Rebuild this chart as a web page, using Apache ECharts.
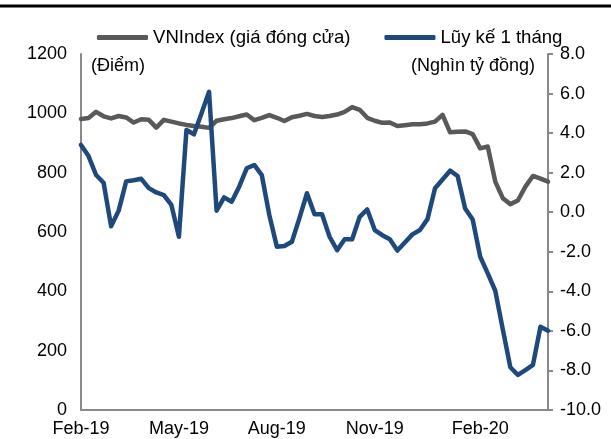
<!DOCTYPE html>
<html>
<head>
<meta charset="utf-8">
<script src="https://cdn.jsdelivr.net/npm/echarts@6/dist/echarts.min.js"></script>
<style>
html, body { margin: 0; padding: 0; background: #fff; }
#chart { width: 611px; height: 439px; }
</style>
</head>
<body>
<div id="chart"></div>
<script>
// tuần (thứ sáu) từ 01/02/2019
const weeks = [
    '2019-02-01', '2019-02-08', '2019-02-15', '2019-02-22', '2019-03-01', '2019-03-08', '2019-03-15', '2019-03-22',
    '2019-03-29', '2019-04-05', '2019-04-12', '2019-04-19', '2019-04-26', '2019-05-03', '2019-05-10', '2019-05-17',
    '2019-05-24', '2019-05-31', '2019-06-07', '2019-06-14', '2019-06-21', '2019-06-28', '2019-07-05', '2019-07-12',
    '2019-07-19', '2019-07-26', '2019-08-02', '2019-08-09', '2019-08-16', '2019-08-23', '2019-08-30', '2019-09-06',
    '2019-09-13', '2019-09-20', '2019-09-27', '2019-10-04', '2019-10-11', '2019-10-18', '2019-10-25', '2019-11-01',
    '2019-11-08', '2019-11-15', '2019-11-22', '2019-11-29', '2019-12-06', '2019-12-13', '2019-12-20', '2019-12-27',
    '2020-01-03', '2020-01-10', '2020-01-17', '2020-01-24', '2020-01-31', '2020-02-07', '2020-02-14', '2020-02-21',
    '2020-02-28', '2020-03-06', '2020-03-13', '2020-03-20', '2020-03-27', '2020-04-03', '2020-04-10'
]
const tickWeeks = ['2019-02-01', '2019-05-03', '2019-08-02', '2019-11-01', '2020-02-07']
const tickLabels = ['Feb-19', 'May-19', 'Aug-19', 'Nov-19', 'Feb-20']

// VNIndex (điểm)
const vnindex = [
    981, 984, 1005, 990, 983, 991, 986, 969, 980, 978,
    952, 978, 972, 966, 961, 957, 955, 951, 975, 980,
    984, 990, 996, 977, 985, 994, 985, 974, 987, 992,
    998, 991, 988, 991, 996, 1005, 1021, 1012, 985, 975,
    968, 969, 957, 960, 963, 963, 966, 972, 995, 936,
    938, 939, 930, 882, 888, 770, 714, 694, 706, 753,
    789, 780, 770
]
// lũy kế 1 tháng (nghìn tỷ đồng)
const cumulative = [
    3.40, 2.84, 1.88, 1.49, -0.71, 0.08, 1.56, 1.62, 1.69, 1.22,
    1.00, 0.87, 0.37, -1.24, 4.16, 3.94, 5.00, 6.09, 0.08, 0.75,
    0.53, 1.29, 2.22, 2.39, 1.88, -0.14, -1.74, -1.71, -1.49, -0.30,
    0.96, -0.10, -0.10, -1.24, -1.92, -1.37, -1.37, -0.23, 0.14, -0.90,
    -1.16, -1.37, -1.94, -1.53, -1.12, -0.90, -0.35, 1.21, 1.65, 2.10,
    1.83, 0.19, -0.37, -2.25, -3.09, -3.97, -5.92, -7.84, -8.23, -7.98,
    -7.72, -5.79, -5.99
]

const font = 'Liberation Sans, Arial, sans-serif'
const axisColor = '#898989'

const myChart = echarts.init(document.getElementById('chart'))
myChart.setOption({
    animation: false,
    textStyle: { fontFamily: font },
    legend: {
        data: ['VNIndex (giá đóng cửa)', 'Lũy kế 1 tháng'],
        left: 92,
        top: 23,
        icon: 'roundRect',
        itemWidth: 51,
        itemHeight: 5,
        itemGap: 34,
        textStyle: { fontSize: 18.6, color: '#000', fontFamily: font }
    },
    grid: {
        left: 81,
        right: 63,
        top: 54,
        bottom: 29
    },
    graphic: [
        {
            type: 'line',
            shape: { x1: 0, y1: 6, x2: 611, y2: 6 },
            style: { stroke: '#000', lineWidth: 3 }
        },
        {
            type: 'text',
            left: 91,
            top: 57,
            style: { text: '(Điểm)', fontSize: 18, fill: '#000', fontFamily: font }
        },
        {
            type: 'text',
            right: 76,
            top: 57,
            style: { text: '(Nghìn tỷ đồng)', fontSize: 18, fill: '#000', fontFamily: font }
        }
    ],
    xAxis: {
        type: 'category',
        data: weeks,
        boundaryGap: false,
        axisLine: { lineStyle: { color: axisColor, width: 2 } },
        axisTick: { show: false },
        axisLabel: {
            color: '#000',
            fontSize: 18,
            margin: 10,
            interval: function (idx, val) {
                return tickWeeks.indexOf(val) > -1
            },
            formatter: function (val) {
                return tickLabels[tickWeeks.indexOf(val)]
            }
        },
        splitLine: { show: false }
    },
    yAxis: [
        {
            type: 'value',
            min: 0,
            max: 1200,
            interval: 200,
            axisLine: { show: true, lineStyle: { color: axisColor, width: 2 } },
            axisTick: { show: false },
            axisLabel: {
                color: '#000',
                fontSize: 18,
                margin: 14,
                formatter: function (v) {
                    return String(v)
                }
            },
            splitLine: { show: false }
        },
        {
            type: 'value',
            min: -10,
            max: 8,
            interval: 2,
            position: 'right',
            axisLine: { show: true, lineStyle: { color: axisColor, width: 2 } },
            axisTick: { show: true, length: 5, lineStyle: { color: axisColor, width: 2 } },
            axisLabel: {
                color: '#000',
                fontSize: 18,
                margin: 12,
                formatter: function (v) {
                    return v.toFixed(1)
                }
            },
            splitLine: { show: false }
        }
    ],
    series: [
        {
            name: 'VNIndex (giá đóng cửa)',
            type: 'line',
            yAxisIndex: 0,
            data: vnindex,
            symbol: 'none',
            itemStyle: { color: '#595959' },
            lineStyle: { color: '#595959', width: 4.5, cap: 'round', join: 'round' }
        },
        {
            name: 'Lũy kế 1 tháng',
            type: 'line',
            yAxisIndex: 1,
            data: cumulative,
            symbol: 'none',
            itemStyle: { color: '#1F497D' },
            lineStyle: { color: '#1F497D', width: 4.5, cap: 'round', join: 'round' }
        }
    ]
})
</script>
</body>
</html>
